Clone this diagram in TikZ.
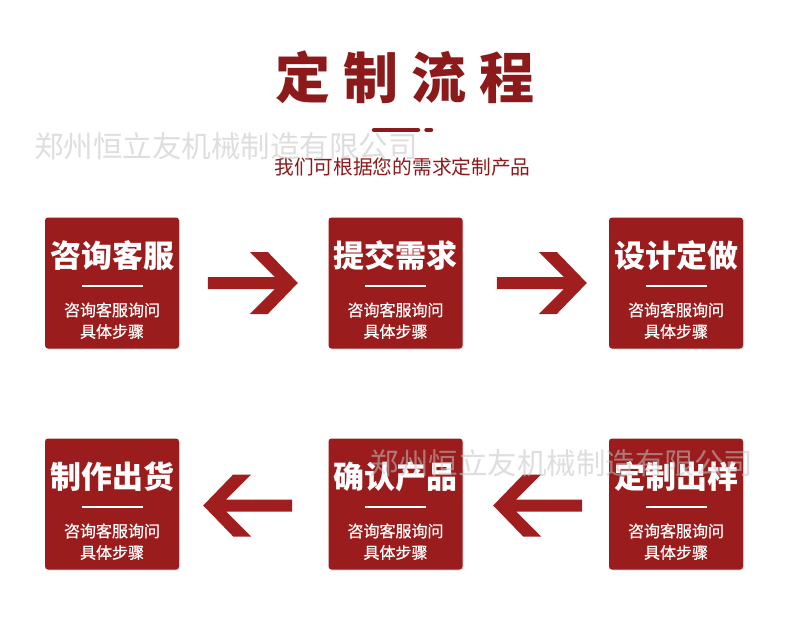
\documentclass[tikz,border=0pt]{standalone}
\usepackage{fontspec}
\newfontfamily\cjk{Noto Sans CJK SC}
\newfontfamily\cjkmed[FakeBold=0.6]{Noto Sans CJK SC}
\usetikzlibrary{calc,shadows}
\definecolor{boxred}{RGB}{155,28,28}
\definecolor{titlered}{RGB}{140,26,26}
\definecolor{arrred}{RGB}{160,30,30}
\definecolor{wm}{RGB}{195,195,195}
\tikzset{
  stepbox/.style={fill=boxred, minimum width=134pt, minimum height=131pt, rounded corners=3pt, inner sep=0pt,
    drop shadow={shadow xshift=1pt, shadow yshift=-1pt, opacity=.25}},
  boxtitle/.style={text=white, inner sep=0pt, font=\cjk\bfseries\fontsize{31pt}{31pt}\selectfont},
  boxsub/.style={text=white, inner sep=0pt, font=\cjkmed\fontsize{16pt}{16pt}\selectfont},
  boxrule/.style={draw=white, line width=2pt},
  maintitle/.style={text=titlered, inner sep=0pt, font=\cjk\bfseries\fontsize{55pt}{55pt}\selectfont},
  subtitle/.style={text=titlered, inner sep=0pt, font=\cjk\fontsize{19.7pt}{19.7pt}\selectfont},
  deco/.style={draw=titlered, line width=4.5pt, line cap=round},
  blockarrow/.style={fill=arrred},
  wmark/.style={text=wm, text opacity=.55, inner sep=0pt, font=\cjk\fontsize{29.5pt}{29.5pt}\selectfont}
}
\begin{document}
\begin{tikzpicture}[x=1pt,y=-1pt]
\useasboundingbox (0,0) rectangle (790,640);
\fill[white] (0,0) rectangle (790,640);

% heading
\node[maintitle] (title) at (405,77) {定\hspace{12.7pt}制\hspace{12.7pt}流\hspace{12.7pt}程};
\draw[deco] (374,130) -- (418,130);
\draw[deco] (426.5,130) -- (431,130);
\node[subtitle] (sub) at (402.5,167) {我们可根据您的需求定制产品};

% step boxes
\foreach \nm/\x/\y/\ttl in {b1/112/283/咨询客服, b2/395.5/283/提交需求, b3/676/283/设计定做,
                            b4/112/504/制作出货, b5/395.5/504/确认产品, b6/676/504/定制出样}
{
  \node[stepbox] (\nm) at (\x,\y) {};
  \node[boxtitle] (\nm t) at ($(\nm)+(0,-27)$) {\ttl};
  \draw[boxrule] ($(\nm)+(-30.5,3)$) -- ($(\nm)+(30.5,3)$);
  \node[boxsub] (\nm s1) at ($(\nm)+(0,27)$) {咨询客服询问};
  \node[boxsub] (\nm s2) at ($(\nm)+(0,48.5)$) {具体步骤};
}

% arrows, row 1 (pointing right)
\fill[blockarrow, shift={($(b2.west)+(-30.5,0)$)}]
  (-90,-6) -- (-23,-6) -- (-48,-31) -- (-30,-31) -- (0,0) -- (-30,31) -- (-48,31) -- (-23,6) -- (-90,6) -- cycle;
\fill[blockarrow, shift={($(b3.west)+(-22,0)$)}]
  (-90,-6) -- (-23,-6) -- (-48,-31) -- (-30,-31) -- (0,0) -- (-30,31) -- (-48,31) -- (-23,6) -- (-90,6) -- cycle;
% arrows, row 2 (pointing left)
\fill[blockarrow, shift={($(b4.east)+(24,1.5)$)}]
  (89,-6) -- (23,-6) -- (48,-31) -- (30,-31) -- (0,0) -- (30,31) -- (48,31) -- (23,6) -- (89,6) -- cycle;
\fill[blockarrow, shift={($(b5.east)+(30.5,1.5)$)}]
  (89,-6) -- (23,-6) -- (48,-31) -- (30,-31) -- (0,0) -- (30,31) -- (48,31) -- (23,6) -- (89,6) -- cycle;

% watermarks
\node[wmark] (wm1) at (226,146) {郑州恒立友机械制造有限公司};
\node[wmark] (wm2) at (561.5,463) {郑州恒立友机械制造有限公司};
\end{tikzpicture}
\end{document}
